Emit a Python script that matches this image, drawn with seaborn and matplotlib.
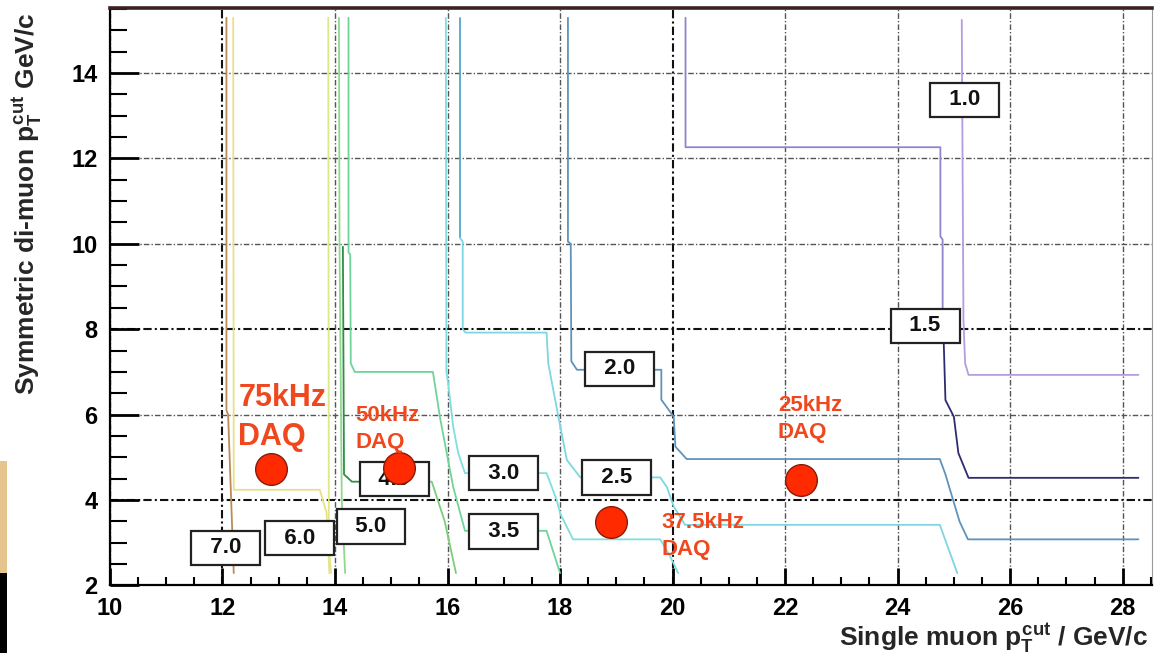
import numpy as np
import pandas as pd
import matplotlib
matplotlib.use("Agg")
import matplotlib.pyplot as plt
import seaborn as sns
from matplotlib.patches import Rectangle
from matplotlib.ticker import MultipleLocator

# ---------------- data ----------------
# rate contours: x = single muon pT cut, y = symmetric di-muon pT cut
c70_x = [12.07, 12.07, 12.10, 12.20]
c70_y = [15.29, 6.10, 6.00, 2.29]
c60_x = [12.19, 12.20, 13.73, 13.85, 13.90]
c60_y = [15.29, 4.24, 4.24, 3.70, 2.29]
c60b_x = [13.88, 13.89, 13.93]
c60b_y = [15.29, 2.90, 2.29]
c50_x = [14.07, 14.08, 14.12, 14.18]
c50_y = [15.29, 9.95, 4.00, 2.29]
c40a_x = [14.14, 14.16, 14.30, 14.60]
c40a_y = [9.93, 4.60, 4.43, 4.43]
c40b_x = [15.40, 15.72, 15.95, 16.15]
c40b_y = [4.43, 4.43, 3.50, 2.29]
c35_x = [14.24, 14.24, 14.27, 14.28, 14.35, 15.74, 15.87, 16.10, 16.31, 17.76, 18.00]
c35_y = [15.29, 9.80, 9.75, 7.20, 7.00, 7.00, 5.90, 4.31, 3.28, 3.28, 2.29]
c30_x = [15.97, 15.98, 16.01, 16.10, 16.19, 16.31, 17.76, 17.94, 18.00, 18.23, 19.78, 19.95, 20.10]
c30_y = [15.29, 7.00, 6.74, 5.72, 5.10, 4.63, 4.63, 4.00, 3.69, 3.08, 3.08, 2.70, 2.29]
c25a_x = [16.22, 16.22]
c25a_y = [15.29, 10.14]
c25b_x = [16.22, 16.27, 16.27, 16.32, 17.76, 17.79, 17.97, 18.12, 18.36, 19.78, 19.90, 20.02, 20.22, 24.75, 25.06]
c25b_y = [10.14, 10.05, 8.00, 7.92, 7.92, 7.20, 5.95, 4.94, 4.53, 4.53, 4.30, 3.85, 3.42, 3.42, 2.29]
c20_x = [18.14, 18.14, 18.19, 18.20, 18.30, 19.80, 19.80, 20.02, 20.05, 20.25, 24.75, 24.85, 25.10, 25.25, 28.28]
c20_y = [15.29, 10.05, 10.00, 7.25, 7.05, 7.05, 6.35, 5.95, 5.25, 4.96, 4.96, 4.60, 3.50, 3.08, 3.08]
c15a_x = [20.23, 20.23, 24.76, 24.76, 24.80, 24.80]
c15a_y = [15.29, 12.26, 12.26, 10.17, 10.10, 8.10]
c15b_x = [24.80, 24.82, 24.85, 25.00, 25.08, 25.26, 28.28]
c15b_y = [8.10, 7.67, 6.34, 5.95, 5.10, 4.52, 4.52]
c10_x = [25.14, 25.17, 25.20, 25.26, 28.28]
c10_y = [15.24, 8.22, 7.20, 6.93, 6.93]

# contour level labels
box_labels = ["7.0", "6.0", "5.0", "4.0", "3.0", "3.5", "2.5", "2.0", "1.5", "1.0"]
box_x = [12.06, 13.37, 14.64, 15.05, 17.00, 17.00, 19.01, 19.06, 24.49, 25.19]
box_y = [2.88, 3.11, 3.38, 4.49, 4.63, 3.26, 4.53, 7.07, 8.08, 13.37]

# DAQ working points
rate_labels = ["75kHz\nDAQ", "50kHz\nDAQ", "37.5kHz\nDAQ", "25kHz\nDAQ"]
dot_x = [12.87, 15.13, 18.90, 22.28]
dot_y = [4.72, 4.74, 3.49, 4.47]
text_x = [12.28, 14.36, 19.81, 21.87]
text_y = [5.29, 5.21, 2.71, 5.45]   # baseline of the "DAQ" line

# ---------------- styles ----------------
segments = {
    "c70": (c70_x, c70_y, "#b98c5a"),
    "c60": (c60_x, c60_y, "#ebe08a"),
    "c60b": (c60b_x, c60b_y, "#dfe887"),
    "c50": (c50_x, c50_y, "#8fd88f"),
    "c40a": (c40a_x, c40a_y, "#2f8f45"),
    "c40b": (c40b_x, c40b_y, "#7ccc7c"),
    "c35": (c35_x, c35_y, "#6fd49a"),
    "c30": (c30_x, c30_y, "#7fdede"),
    "c25a": (c25a_x, c25a_y, "#55a5c8"),
    "c25b": (c25b_x, c25b_y, "#7dd6e2"),
    "c20": (c20_x, c20_y, "#5f93bc"),
    "c15a": (c15a_x, c15a_y, "#9284cc"),
    "c15b": (c15b_x, c15b_y, "#2e2c6e"),
    "c10": (c10_x, c10_y, "#b39ce0"),
}
text_sizes = [22, 16, 16, 16]

rows = []
for name, (xs, ys, _) in segments.items():
    for i, (xv, yv) in enumerate(zip(xs, ys)):
        rows.append({"seg": name, "i": i, "x": xv, "y": yv})
df = pd.DataFrame(rows)
palette = {k: v[2] for k, v in segments.items()}

sns.set_theme(style="white")
plt.rcParams["font.family"] = ["Liberation Sans", "DejaVu Sans"]
plt.rcParams["font.weight"] = "bold"
plt.rcParams["mathtext.fontset"] = "custom"
plt.rcParams["mathtext.rm"] = "Liberation Sans:bold"
plt.rcParams["mathtext.it"] = "Liberation Sans:bold"
plt.rcParams["mathtext.bf"] = "Liberation Sans:bold"

fig = plt.figure(figsize=(11.54, 6.53), dpi=100, facecolor="white")
ax = fig.add_axes([0.0953, 0.1034, 0.9029, 0.8844])
ax.set_facecolor("white")

sns.lineplot(data=df, x="x", y="y", hue="seg", palette=palette, sort=False,
             estimator=None, units="seg", legend=False, linewidth=1.3, ax=ax)

ax.set_xlim(10, 28.52)
ax.set_ylim(2, 15.52)

# label boxes
for lab, bx, by in zip(box_labels, box_x, box_y):
    ax.text(bx, by, f"  {lab}  ", ha="center", va="center", fontsize=16,
            fontweight="bold", color="#111",
            bbox=dict(boxstyle="square,pad=0.3", fc="white", ec="#222", lw=1.6),
            zorder=5)

# DAQ points
sns.scatterplot(x=dot_x, y=dot_y, s=520, color="#ff2a00", edgecolor="#8a1a08",
                linewidth=1.0, zorder=6, ax=ax, legend=False)
for lab, tx, ty, fs in zip(rate_labels, text_x, text_y, text_sizes):
    ax.text(tx, ty, lab, ha="left", va="baseline", fontsize=fs, fontweight="bold",
            color="#f0481e", linespacing=1.4, zorder=7)

# axes / ticks / grid
ax.xaxis.set_major_locator(MultipleLocator(2))
ax.xaxis.set_minor_locator(MultipleLocator(0.5))
ax.yaxis.set_major_locator(MultipleLocator(2))
ax.yaxis.set_minor_locator(MultipleLocator(0.5))
ax.tick_params(axis="both", which="both", direction="in", top=False, right=False,
               bottom=True, left=True, colors="black")
ax.tick_params(axis="y", which="major", length=21, width=2, pad=9, labelsize=17)
ax.tick_params(axis="y", which="minor", length=12, width=1.5)
ax.tick_params(axis="x", which="major", length=12, width=2, pad=8, labelsize=17)
ax.tick_params(axis="x", which="minor", length=5.5, width=1.5)

ax.set_axisbelow(True)
ax.grid(True, which="major", color="#555555", linewidth=1.0,
        linestyle=(0, (4, 1.5, 1, 1.5)))
for t in ax.xaxis.get_major_ticks():
    if round(t.get_loc()) in (14, 22):
        t.gridline.set_color("#111111")
        t.gridline.set_linewidth(1.5)
for t in ax.yaxis.get_major_ticks():
    if round(t.get_loc()) in (4, 8):
        t.gridline.set_color("#111111")
        t.gridline.set_linewidth(1.5)

for side in ("left", "bottom"):
    ax.spines[side].set_color("black")
    ax.spines[side].set_linewidth(1.6)
ax.spines["top"].set_color("#3b2222")
ax.spines["top"].set_linewidth(2.6)
ax.spines["right"].set_color("#9a9a9a")
ax.spines["right"].set_linewidth(0.8)

ax.set_xlabel(r"Single muon $p_T^{cut}$ / GeV/c", fontsize=19, fontweight="bold")
ax.set_ylabel(r"Symmetric di-muon $p_T^{cut}$ GeV/c", fontsize=19, fontweight="bold")
ax.xaxis.set_label_coords(0.9965, -0.104)
ax.xaxis.label.set_ha("right")
ax.xaxis.label.set_va("baseline")
ax.yaxis.set_label_coords(-0.0797, 0.992)
ax.yaxis.label.set_ha("right")
ax.yaxis.label.set_va("center")

# slide-crop remnants at the left edge
fig.add_artist(Rectangle((0, 0.1225), 0.006, 0.1715, transform=fig.transFigure,
                         facecolor="#e6c48e", edgecolor="none"))
fig.add_artist(Rectangle((0, 0.0), 0.006, 0.1225, transform=fig.transFigure,
                         facecolor="black", edgecolor="none"))

fig.savefig("out.png", dpi=100, facecolor="white")
